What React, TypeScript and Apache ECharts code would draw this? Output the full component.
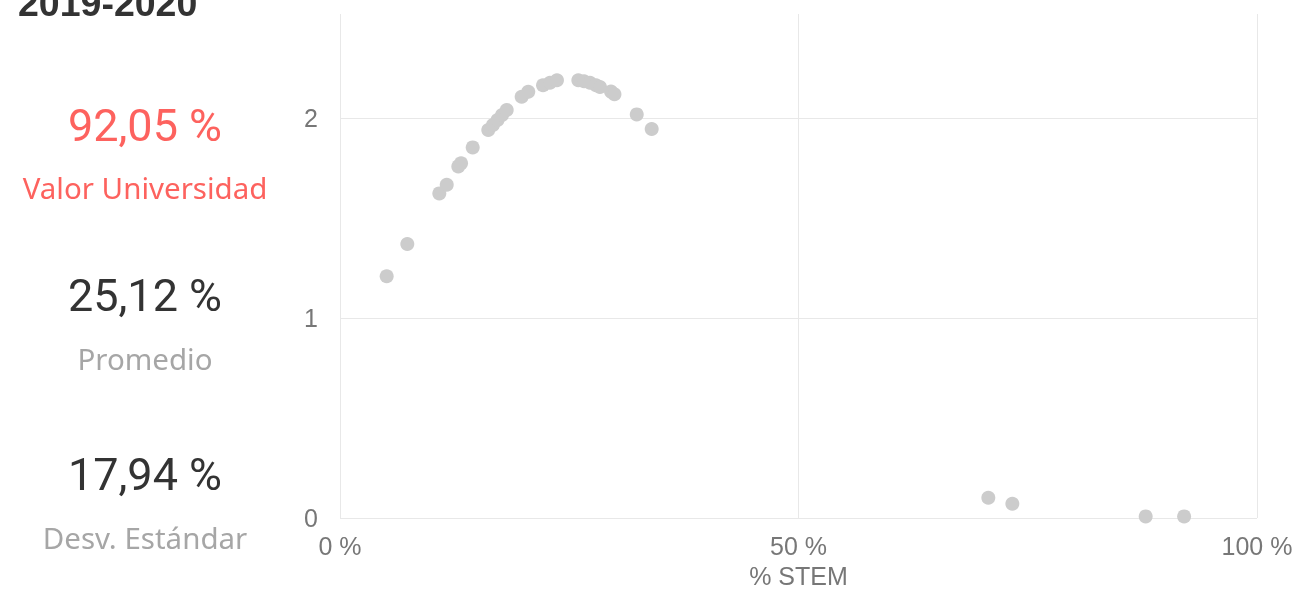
import React, { useEffect, useRef } from "react";
import * as echarts from "echarts";

const stemPct = [
  5.09, 7.34, 10.83, 11.64, 12.9, 13.2, 14.47, 16.17, 16.68, 17.18, 17.67, 18.18,
  19.81, 20.53, 22.14, 22.9, 23.66, 25.99, 26.61, 27.26, 27.92, 28.35, 29.55, 29.93,
  32.36, 33.99, 70.7, 73.32, 87.86, 92.05,
];
const density = [
  1.209, 1.37, 1.623, 1.666, 1.758, 1.774, 1.853, 1.94, 1.965, 1.99, 2.015, 2.04,
  2.106, 2.131, 2.164, 2.176, 2.189, 2.189, 2.184, 2.176, 2.164, 2.155, 2.132, 2.119,
  2.018, 1.945, 0.101, 0.071, 0.008, 0.008,
];
const xTicks = [0, 50, 100];
const yTicks = [0, 1, 2];

const title = "2019-2020";
const cards = [
  { value: "92,05 %", label: "Valor Universidad", valueColor: "#fd625e", labelColor: "#fd625e" },
  { value: "25,12 %", label: "Promedio", valueColor: "#333333", labelColor: "#a6a6a6" },
  { value: "17,94 %", label: "Desv. Estándar", valueColor: "#333333", labelColor: "#a6a6a6" },
];

export default function App() {
  const ref = useRef<HTMLDivElement>(null);
  useEffect(() => {
    document.body.style.margin = "0";
    const chart = echarts.init(ref.current!, null, { renderer: "svg" });
    const cardTops = [125, 295, 474];
    const labelTops = [187, 358, 537];
    const graphics: any[] = [
      {
        type: "text",
        left: 18,
        top: -16,
        style: {
          text: title,
          font: "bold 37.5px 'Liberation Sans', Arial, sans-serif",
          fill: "#333333",
        },
      },
    ];
    cards.forEach((c, i) => {
      graphics.push({
        type: "text",
        x: 145,
        y: cardTops[i],
        style: {
          text: c.value,
          font: "45px Roboto, sans-serif",
          fill: c.valueColor,
          textAlign: "center",
          textVerticalAlign: "middle",
        },
      });
      graphics.push({
        type: "text",
        x: 145,
        y: labelTops[i],
        style: {
          text: c.label,
          font: "29.5px 'Noto Sans', sans-serif",
          fill: c.labelColor,
          textAlign: "center",
          textVerticalAlign: "middle",
        },
      });
    });

    chart.setOption({
      animation: false,
      grid: { left: 340, right: 40, top: 14, bottom: 72, containLabel: false },
      graphic: graphics,
      xAxis: {
        type: "value",
        min: 0,
        max: 100,
        interval: 50,
        name: "% STEM",
        nameLocation: "middle",
        nameGap: 45,
        nameTextStyle: { color: "#777777", fontSize: 25, fontFamily: "'Liberation Sans', Arial, sans-serif" },
        axisLine: { show: false },
        axisTick: { show: false },
        axisLabel: {
          color: "#777777",
          fontSize: 25,
          fontFamily: "'Liberation Sans', Arial, sans-serif",
          margin: 15,
          formatter: (v: number) => (xTicks.includes(v) ? `${v} %` : ""),
        },
        splitLine: { show: true, lineStyle: { color: "#e8e8e8", width: 1 } },
      },
      yAxis: {
        type: "value",
        min: 0,
        max: 2.52,
        interval: 1,
        axisLine: { show: false },
        axisTick: { show: false },
        axisLabel: {
          color: "#777777",
          fontSize: 25,
          fontFamily: "'Liberation Sans', Arial, sans-serif",
          margin: 22,
          showMaxLabel: false,
          formatter: (v: number) => (yTicks.includes(v) ? `${v}` : ""),
        },
        splitLine: { show: true, showMaxLine: false, lineStyle: { color: "#e8e8e8", width: 1 } },
      },
      series: [
        {
          type: "scatter",
          symbolSize: 14,
          itemStyle: { color: "#cccccc", opacity: 1 },
          data: stemPct.map((x, i) => [x, density[i]]),
        },
      ],
    });
    return () => chart.dispose();
  }, []);
  return (
    <div
      ref={ref}
      style={{ position: "fixed", left: 0, top: 0, width: 1297, height: 593 }}
    />
  );
}
